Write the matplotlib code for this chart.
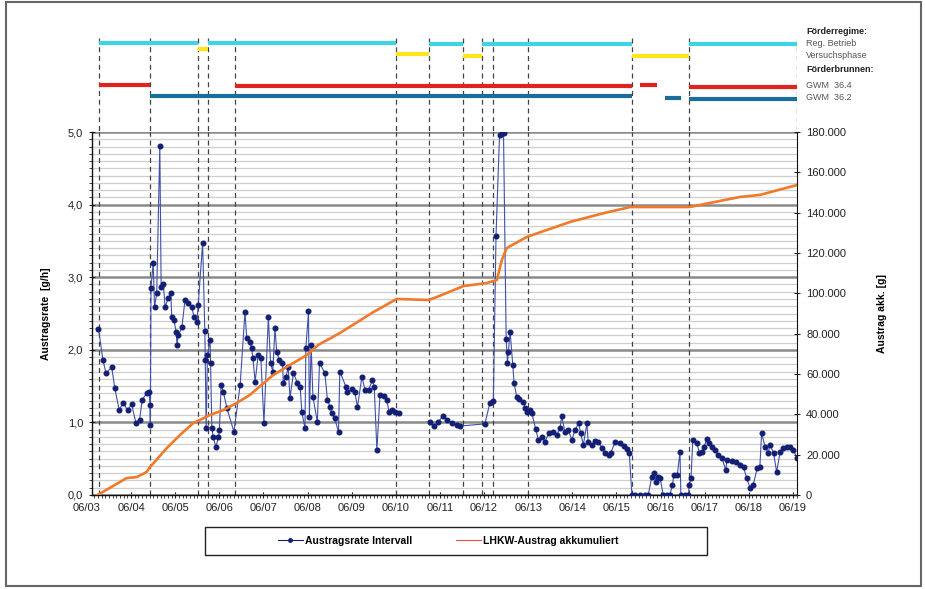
import numpy as np
import matplotlib.pyplot as plt
from matplotlib.lines import Line2D
from matplotlib.patches import Rectangle
from matplotlib.ticker import MultipleLocator, FuncFormatter

plt.rcParams['font.family'] = ['Liberation Sans', 'DejaVu Sans']

# time axis: day of June (fractional)
rate_t = [3.26, 3.36, 3.43, 3.56, 3.63, 3.73, 3.82, 3.92, 4.01, 4.11, 4.19, 4.25, 4.35, 4.41,
          4.43, 4.435, 4.45, 4.50, 4.53, 4.58, 4.65, 4.68, 4.73, 4.77, 4.84, 4.90, 4.92, 4.97,
          5.02, 5.04, 5.07, 5.15, 5.22, 5.30, 5.37, 5.43, 5.49, 5.52, 5.62, 5.67, 5.68, 5.70,
          5.73, 5.79, 5.80, 5.83, 5.86, 5.92, 5.98, 6.00, 6.04, 6.09, 6.17, 6.33, 6.47, 6.58,
          6.62, 6.69, 6.73, 6.76, 6.81, 6.88, 6.94, 7.01, 7.11, 7.16, 7.21, 7.26, 7.30, 7.36,
          7.43, 7.45, 7.51, 7.56, 7.60, 7.68, 7.77, 7.83, 7.87, 7.94, 7.96, 8.02, 8.04, 8.08,
          8.12, 8.22, 8.27, 8.39, 8.45, 8.51, 8.55, 8.61, 8.70, 8.73, 8.87, 8.89, 9.00, 9.07,
          9.13, 9.23, 9.30, 9.38, 9.47, 9.51, 9.57, 9.64, 9.72, 9.79, 9.85, 9.91, 9.98, 10.06,
          10.40,
          10.77, 10.86, 10.96, 11.06, 11.15, 11.27, 11.39, 11.45, 12.02, 12.13, 12.21, 12.27,
          12.35, 12.40, 12.44, 12.50, 12.53, 12.55, 12.59, 12.65, 12.68, 12.74, 12.80, 12.88,
          12.93, 12.98, 13.04, 13.08, 13.17, 13.23, 13.31, 13.38, 13.46, 13.56, 13.65, 13.72,
          13.76, 13.83, 13.91, 13.99, 14.06, 14.14, 14.19, 14.25, 14.33, 14.36, 14.44, 14.51,
          14.59, 14.67, 14.74, 14.82, 14.87, 14.97, 15.07, 15.16, 15.23, 15.29, 15.35, 15.42,
          15.53, 15.65, 15.72, 15.80, 15.85, 15.90, 15.95, 15.99, 16.06, 16.14, 16.21, 16.27,
          16.30, 16.38, 16.44, 16.46, 16.55, 16.63, 16.65, 16.69, 16.73, 16.82, 16.88, 16.93,
          16.98, 17.05, 17.10, 17.16, 17.23, 17.31, 17.39, 17.48, 17.50, 17.61, 17.71, 17.80,
          17.88, 17.95, 18.03, 18.10, 18.19, 18.25, 18.29, 18.37, 18.44, 18.48, 18.56, 18.63,
          18.71, 18.78, 18.86, 18.93, 19.01, 19.09]
rate_v = [2.29, 1.86, 1.68, 1.76, 1.47, 1.17, 1.27, 1.17, 1.25, 0.99, 1.03, 1.31, 1.40, 1.42,
          1.24, 0.96, 2.85, 3.20, 2.59, 2.78, 4.81, 2.87, 2.90, 2.59, 2.71, 2.78, 2.45, 2.41,
          2.25, 2.07, 2.20, 2.31, 2.68, 2.64, 2.59, 2.45, 2.38, 2.62, 3.47, 2.26, 1.86, 0.92,
          1.93, 2.13, 1.82, 0.92, 0.80, 0.66, 0.80, 0.89, 1.51, 1.42, 1.20, 0.87, 1.51, 2.52,
          2.16, 2.11, 2.02, 1.89, 1.56, 1.93, 1.89, 0.99, 2.45, 1.82, 1.70, 2.30, 1.97, 1.86,
          1.82, 1.54, 1.63, 1.76, 1.34, 1.68, 1.54, 1.49, 1.14, 0.92, 2.02, 2.53, 1.07, 2.07,
          1.35, 1.01, 1.82, 1.68, 1.31, 1.21, 1.13, 1.06, 0.87, 1.70, 1.49, 1.42, 1.46, 1.42,
          1.21, 1.63, 1.45, 1.45, 1.58, 1.49, 0.62, 1.38, 1.36, 1.31, 1.14, 1.17, 1.14, 1.13,
          np.nan,
          1.00, 0.95, 1.00, 1.09, 1.03, 0.99, 0.96, 0.95, 0.98, 1.27, 1.30, 3.57,
          4.96, 4.99, 4.99, 2.15, 1.82, 1.97, 2.25, 1.79, 1.54, 1.35, 1.32, 1.28,
          1.20, 1.14, 1.17, 1.13, 0.91, 0.76, 0.80, 0.73, 0.85, 0.87, 0.83, 0.92,
          1.09, 0.87, 0.89, 0.76, 0.89, 0.99, 0.85, 0.69, 0.99, 0.73, 0.69, 0.74,
          0.73, 0.65, 0.58, 0.55, 0.58, 0.73, 0.72, 0.67, 0.63, 0.58, 0.00, 0.00,
          0.00, 0.00, 0.00, 0.25, 0.30, 0.18, 0.25, 0.23, 0.00, 0.00, 0.00, 0.14,
          0.28, 0.28, 0.59, 0.00, 0.00, 0.00, 0.14, 0.23, 0.76, 0.72, 0.58, 0.59,
          0.66, 0.77, 0.72, 0.66, 0.62, 0.55, 0.51, 0.34, 0.48, 0.47, 0.45, 0.41,
          0.39, 0.23, 0.10, 0.14, 0.37, 0.39, 0.85, 0.66, 0.58, 0.69, 0.58, 0.32,
          0.59, 0.65, 0.66, 0.66, 0.62, 0.51]

cum_t = [3.24, 3.90, 4.13, 4.35, 4.43, 4.81, 5.11, 5.41, 5.56, 5.79, 6.09, 6.39, 6.69, 7.22,
         7.98, 8.24, 8.73, 9.49, 10.02, 10.74, 10.93, 11.53, 12.06, 12.29, 12.40, 12.51,
         12.97, 13.95, 14.70, 15.31, 16.21, 16.66, 17.80, 18.25, 19.09]
cum_v = [0, 8400, 8900, 11400, 13900, 23300, 29800, 35700, 37200, 39700, 42100, 45600, 49600,
         59500, 69400, 74400, 80300, 90700, 97200, 96700, 98200, 103600, 105100, 106600,
         116400, 122400, 128000, 135400, 139700, 142800, 142800, 142800, 147800, 148800,
         153700]

# regime changes (days of June)
boundaries = [3.27, 4.43, 5.52, 5.74, 6.35, 10.0, 10.75, 11.52, 11.95, 12.2, 13.0, 15.35, 16.64]

reg_betrieb = [(3.27, 5.52), (5.74, 10.0), (10.75, 11.52), (11.95, 15.35), (16.64, 19.09)]
versuchsphase = [(5.52, 5.74), (10.0, 10.75), (11.52, 11.95), (15.35, 16.64)]
gwm_364 = [(3.27, 4.43), (6.35, 15.35), (15.53, 15.92), (16.64, 19.09)]
gwm_362 = [(4.43, 15.35), (16.10, 16.46), (16.64, 19.09)]

day_ticks = list(range(3, 20))
day_labels = ['06/%02d' % d for d in day_ticks]

W, H = 925, 589
fig = plt.figure(figsize=(W / 100, H / 100), dpi=100)


def fx(px):
    return px / W


def fy(py):
    return 1 - py / H


x0, x1 = 3.113, 19.092
ax = fig.add_axes([fx(92), fy(495), fx(797) - fx(92), fy(132) - fy(495)])
top = fig.add_axes([fx(92), fy(132), fx(797) - fx(92), fy(30) - fy(132)])

# ---- main axes
ax.set_xlim(x0, x1)
ax.set_ylim(0, 5)
ax.yaxis.set_major_locator(MultipleLocator(1))
ax.yaxis.set_minor_locator(MultipleLocator(0.1))
ax.grid(which='minor', axis='y', color='#cfcfcf', lw=0.9, zorder=0)
ax.grid(which='major', axis='y', color='#8a8a8a', lw=1.8, zorder=0)
ax.set_axisbelow(True)
ax.yaxis.set_major_formatter(FuncFormatter(lambda v, p: ('%.1f' % v).replace('.', ',')))
ax.set_xticks(day_ticks[1:])
ax.set_xticklabels(day_labels[1:])
ax.xaxis.set_minor_locator(MultipleLocator(1 / 12))
ax.tick_params(axis='both', which='major', labelsize=8, colors='#222', direction='inout', length=5, width=0.8)
ax.tick_params(axis='both', which='minor', direction='out', length=2.5, width=0.6, colors='#222')
ax.tick_params(axis='y', pad=4)
# first date label sits just left of the axis start
ax.annotate(day_labels[0], xy=(day_ticks[0], 0), xycoords=ax.get_xaxis_transform(),
            xytext=(0, -6), textcoords='offset points', ha='center', va='top',
            fontsize=8, color='#222', annotation_clip=False)
for s in ['top', 'right']:
    ax.spines[s].set_visible(False)
for s in ['left', 'bottom']:
    ax.spines[s].set_color('#111')
    ax.spines[s].set_linewidth(1)

for b in boundaries:
    ax.axvline(b, color='#444', lw=0.9, ls=(0, (4, 3)), zorder=1)

ax.plot(rate_t, rate_v, color='#4050a8', lw=0.8, zorder=3)
ax.plot(rate_t, rate_v, ls='none', marker='o', ms=3.3, color='#131f74', zorder=4)
ax.set_ylabel('Austragsrate  [g/h]', fontsize=7.5, fontweight='bold', labelpad=12)

ax2 = ax.twinx()
ax2.set_xlim(x0, x1)
ax2.set_ylim(0, 180000)
ax2.yaxis.set_major_locator(MultipleLocator(20000))
ax2.yaxis.set_major_formatter(FuncFormatter(lambda v, p: '{:,.0f}'.format(v).replace(',', '.')))
ax2.tick_params(axis='y', labelsize=8, colors='#222', direction='inout', length=5, width=0.8, pad=4)
for s in ['top', 'left', 'bottom']:
    ax2.spines[s].set_visible(False)
ax2.spines['right'].set_color('#111')
ax2.plot(cum_t, cum_v, color='#f07a2a', lw=1.9, zorder=5)
ax2.set_ylabel('Austrag akk. [g]', fontsize=7.5, fontweight='bold', labelpad=22)

# ---- regime strip
top.set_xlim(x0, x1)
top.set_ylim(132, 30)
top.axis('off')
for b in boundaries + [x1]:
    top.vlines(b, 38, 132, color='#444', lw=0.9, ls=(0, (4, 3)))

rows = [
    (reg_betrieb, '#3fd3e3', [42.5, 43, 44, 44, 44]),
    (versuchsphase, '#ffe61a', [49, 54, 56, 56]),
    (gwm_364, '#e0231e', [85, 86, 85, 87]),
    (gwm_362, '#1b6d9c', [96, 98, 99]),
]
for segs, col, levels in rows:
    for (a, b), lev in zip(segs, levels):
        top.plot([a, b], [lev, lev], color=col, lw=3, solid_capstyle='butt')

labels = [('Förderregime:', 32, True), ('Reg. Betrieb', 44, False), ('Versuchsphase', 56, False),
          ('Förderbrunnen:', 70, True), ('GWM  36.4', 85, False), ('GWM  36.2', 97, False)]
for txt, py, bold in labels:
    fig.text(fx(806), fy(py), txt, fontsize=6.5, va='center', ha='left',
             fontweight='bold' if bold else 'normal', color='#222' if bold else '#555')

# ---- legend
fig.patches.append(Rectangle((fx(205), fy(555)), fx(707) - fx(205), fy(527) - fy(555),
                             transform=fig.transFigure, fill=False, ec='#222', lw=1))
handles = [Line2D([], [], color='#131f74', lw=0.8, marker='o', ms=2.5),
           Line2D([], [], color='#f05030', lw=0.8)]
fig.legend(handles, ['Austragsrate Intervall', 'LHKW-Austrag akkumuliert'], ncol=2,
           loc='center', bbox_to_anchor=(fx(448), fy(541)), frameon=False,
           prop={'size': 7.5, 'weight': 'bold'}, handlelength=2.4, handletextpad=0.2,
           columnspacing=4.2)

# outer frame
fig.patches.append(Rectangle((fx(6), fy(586)), fx(921) - fx(6), fy(2) - fy(586),
                             transform=fig.transFigure, fill=False, ec='#666', lw=1.5))

fig.savefig('out.png', dpi=100)
